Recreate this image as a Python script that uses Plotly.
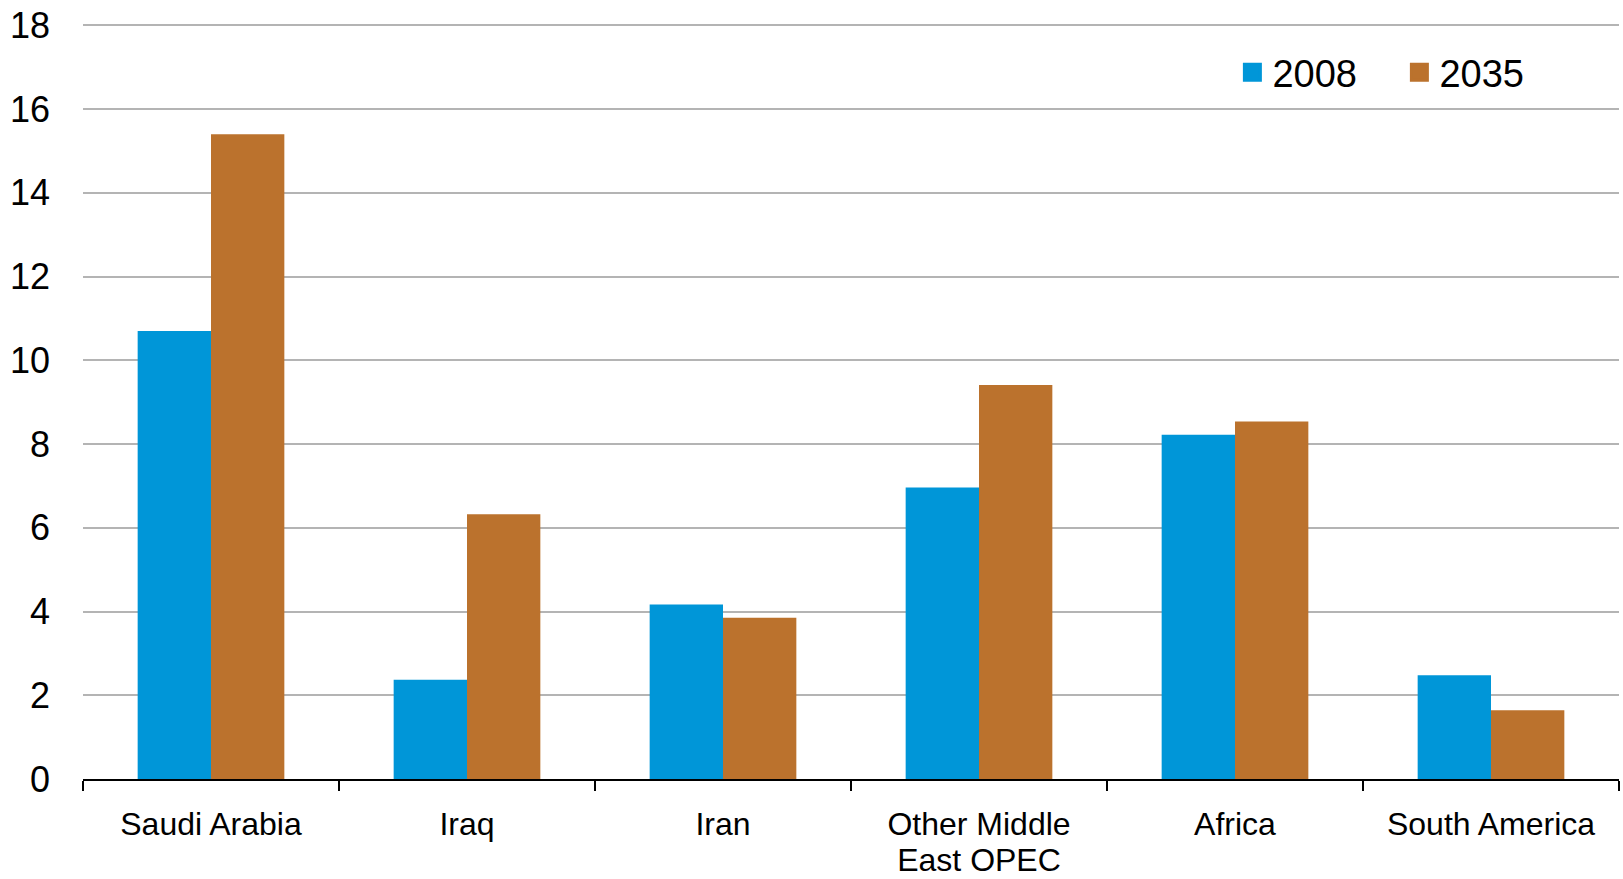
import plotly.graph_objects as go

categories = ["Saudi Arabia", "Iraq", "Iran", "Other Middle<br>East OPEC", "Africa", "South America"]
values_2008 = [10.7, 2.37, 4.17, 6.96, 8.22, 2.48]
values_2035 = [15.4, 6.32, 3.85, 9.41, 8.54, 1.64]
series_names = ["2008", "2035"]
y_ticks = [0, 2, 4, 6, 8, 10, 12, 14, 16, 18]

BLUE = "#0096D8"
ORANGE = "#BB722D"
FONT = "Liberation Sans, Arial, sans-serif"

# tick labels drawn at 32px inside a smaller base font so wrapped lines sit closer together
tick_text = ["<br>".join('<span style="font-size:32px">%s</span>' % part
                         for part in c.split("<br>")) for c in categories]

fig = go.Figure()
fig.add_trace(go.Bar(x=categories, y=values_2008, name=series_names[0],
                     marker=dict(color=BLUE, line=dict(width=0)), showlegend=False))
fig.add_trace(go.Bar(x=categories, y=values_2035, name=series_names[1],
                     marker=dict(color=ORANGE, line=dict(width=0)), showlegend=False))
# legend-only entries with larger square swatches
for name, col in zip(series_names, [BLUE, ORANGE]):
    fig.add_trace(go.Scatter(x=[None], y=[None], mode="markers", name=name,
                             marker=dict(symbol="square", size=16, color=col,
                                         line=dict(width=3, color=col)),
                             showlegend=True))

fig.update_layout(
    width=1623, height=879,
    margin=dict(l=83, r=4, t=24, b=100, autoexpand=False),
    paper_bgcolor="white", plot_bgcolor="white",
    barmode="group", bargap=0.427, bargroupgap=0,
    font=dict(family=FONT, color="black"),
    showlegend=True,
    legend=dict(orientation="h", x=0.7483, xanchor="left", y=0.9358, yanchor="middle",
                font=dict(size=38, family=FONT), bgcolor="rgba(0,0,0,0)",
                itemsizing="trace", entrywidth=122, entrywidthmode="pixels",
                itemclick=False),
    xaxis=dict(type="category", showline=True, linecolor="black", linewidth=2,
               ticks="outside", tickson="boundaries", ticklen=10, tickwidth=2,
               tickcolor="black", showgrid=False, tickfont=dict(size=27, family=FONT),
               tickmode="array", tickvals=categories, ticktext=tick_text,
               ticklabelstandoff=22, ticklabeloverflow="allow", automargin=False),
    yaxis=dict(range=[0, 18.03], tickvals=y_ticks, showline=False, zeroline=False,
               showgrid=True, gridcolor="#B4B4B4", gridwidth=2,
               tickfont=dict(size=36, family=FONT), ticks="", ticklabelstandoff=32,
               ticklabeloverflow="allow", automargin=False),
)

# remove the browser's default 8px body margin so the figure fills the window exactly
fig.write_html("out.html",
               config={"displayModeBar": False},
               post_script="document.body.style.margin='0';document.body.style.overflow='hidden';")
